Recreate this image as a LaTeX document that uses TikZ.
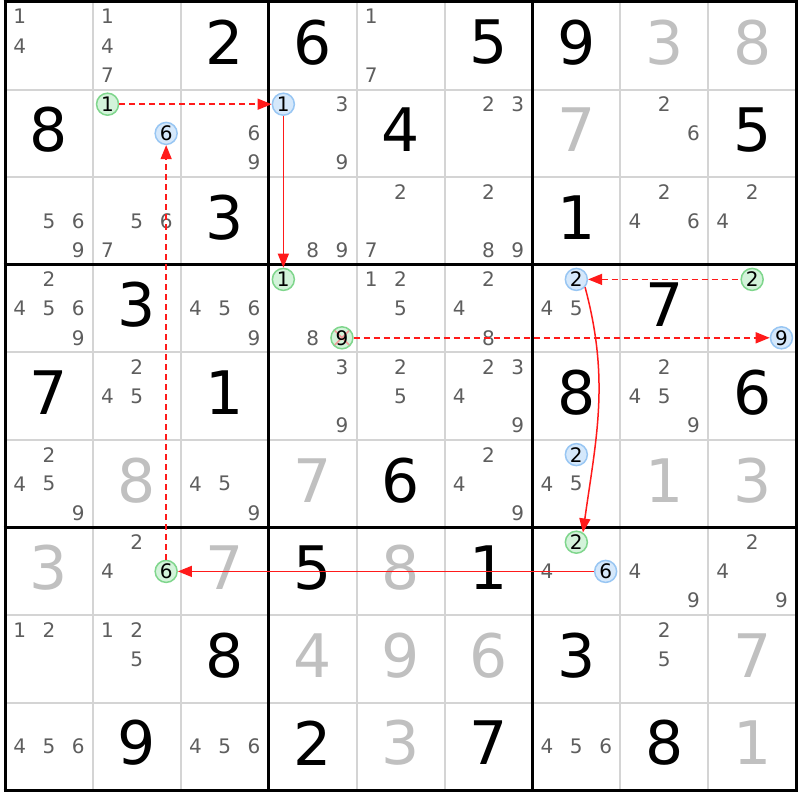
\documentclass[tikz,border=0pt]{standalone}
\usepackage{fontspec}
\setmainfont{DejaVu Sans}
\usetikzlibrary{arrows.meta}
\definecolor{candgray}{HTML}{5E5E5E}
\definecolor{solvedgray}{HTML}{C0C0C0}
\definecolor{gridgray}{HTML}{D4D4D4}
\definecolor{hlgfill}{HTML}{D3F3DA}
\definecolor{hlgdraw}{HTML}{7FD68C}
\definecolor{hlbfill}{HTML}{D5E8FB}
\definecolor{hlbdraw}{HTML}{98C6F3}
\definecolor{arrowred}{HTML}{FF1A1A}
\definecolor{crosspink}{HTML}{F29A9A}
\tikzset{
  given/.style={font=\fontsize{60}{60}\selectfont, text=black, inner sep=0pt},
  solved/.style={font=\fontsize{60}{60}\selectfont, text=solvedgray, inner sep=0pt},
  cand/.style={font=\fontsize{20}{20}\selectfont, text=candgray, inner sep=0pt},
  hlbase/.style={circle, minimum size=22pt, inner sep=0pt, line width=1.5pt, font=\fontsize{20}{20}\selectfont, text=black},
  hlg/.style={hlbase, fill=hlgfill, draw=hlgdraw},
  hlb/.style={hlbase, fill=hlbfill, draw=hlbdraw},
  thingrid/.style={draw=gridgray, line width=2pt},
  thickgrid/.style={draw=black, line width=3pt},
  strongarrow/.style={draw=arrowred, color=arrowred, line width=1.5pt, -{Triangle[length=14pt,width=11pt]}},
  strongrev/.style={draw=arrowred, color=arrowred, line width=1.5pt, {Triangle[length=14pt,width=11pt]}-},
  weakarrow/.style={strongarrow, dash pattern=on 6pt off 4pt},
  weakrev/.style={strongrev, dash pattern=on 6pt off 4pt}
}
\newcommand\giv[3]{\node[given] (v#1#2) at ({5+87.9*(#2-0.5)},{2+87.6*(#1-0.5)-3.5}) {#3};}
\newcommand\sol[3]{\node[solved] (v#1#2) at ({5+87.9*(#2-0.5)},{2+87.6*(#1-0.5)-3.5}) {#3};}
\newcommand\cnd[3]{\foreach \d in {#3}{\node[cand] (k#1#2\d) at ({5+87.9*(#2-1)+14.65*(1+2*mod(\d-1,3))},{2+87.6*(#1-1)+14.6*(1+2*floor((\d-1)/3))}) {\d};}}
\newcommand\hl[4]{\node[#4] (h#1#2#3) at ({5+87.9*(#2-1)+14.65*(1+2*mod(#3-1,3))},{2+87.6*(#1-1)+14.6*(1+2*floor((#3-1)/3))}) {#3};}
\begin{document}
\begin{tikzpicture}[x=1pt,y=-1pt]
\useasboundingbox (0,0) rectangle (800,800);
\fill[white] (0,0) rectangle (800,800);
% grid
\foreach \i in {1,2,4,5,7,8}{
  \path[thingrid] ({5+87.9*\i},2) -- ({5+87.9*\i},790.4);
  \path[thingrid] (5,{2+87.6*\i}) -- (796.1,{2+87.6*\i});
}
\foreach \i in {0,3,6,9}{
  \path[thickgrid] ({5+87.9*\i},0.5) -- ({5+87.9*\i},791.9);
  \path[thickgrid] (3.5,{2+87.6*\i}) -- (797.6,{2+87.6*\i});
}
% row 1
\cnd{1}{1}{1,4}
\cnd{1}{2}{1,4,7}
\giv{1}{3}{2}
\giv{1}{4}{6}
\cnd{1}{5}{1,7}
\giv{1}{6}{5}
\giv{1}{7}{9}
\sol{1}{8}{3}
\sol{1}{9}{8}
% row 2
\giv{2}{1}{8}
\hl{2}{2}{1}{hlg}
\hl{2}{2}{6}{hlb}
\cnd{2}{3}{6,9}
\hl{2}{4}{1}{hlb}
\cnd{2}{4}{3,9}
\giv{2}{5}{4}
\cnd{2}{6}{2,3}
\sol{2}{7}{7}
\cnd{2}{8}{2,6}
\giv{2}{9}{5}
% row 3
\cnd{3}{1}{5,6,9}
\cnd{3}{2}{5,6,7}
\giv{3}{3}{3}
\cnd{3}{4}{8,9}
\cnd{3}{5}{2,7}
\cnd{3}{6}{2,8,9}
\giv{3}{7}{1}
\cnd{3}{8}{2,4,6}
\cnd{3}{9}{2,4}
% row 4
\cnd{4}{1}{2,4,5,6,9}
\giv{4}{2}{3}
\cnd{4}{3}{4,5,6,9}
\hl{4}{4}{1}{hlg}
\node[hlg, path picture={\draw[crosspink, line width=1.6pt] (path picture bounding box.north west) -- (path picture bounding box.south east) (path picture bounding box.north east) -- (path picture bounding box.south west);}] (h449) at ({5+87.9*3+14.65*5},{2+87.6*3+14.6*5}) {9};
\cnd{4}{4}{8}
\cnd{4}{5}{1,2,5}
\cnd{4}{6}{2,4,8}
\hl{4}{7}{2}{hlb}
\cnd{4}{7}{4,5}
\giv{4}{8}{7}
\hl{4}{9}{2}{hlg}
\hl{4}{9}{9}{hlb}
% row 5
\giv{5}{1}{7}
\cnd{5}{2}{2,4,5}
\giv{5}{3}{1}
\cnd{5}{4}{3,9}
\cnd{5}{5}{2,5}
\cnd{5}{6}{2,3,4,9}
\giv{5}{7}{8}
\cnd{5}{8}{2,4,5,9}
\giv{5}{9}{6}
% row 6
\cnd{6}{1}{2,4,5,9}
\sol{6}{2}{8}
\cnd{6}{3}{4,5,9}
\sol{6}{4}{7}
\giv{6}{5}{6}
\cnd{6}{6}{2,4,9}
\hl{6}{7}{2}{hlb}
\cnd{6}{7}{4,5}
\sol{6}{8}{1}
\sol{6}{9}{3}
% row 7
\sol{7}{1}{3}
\cnd{7}{2}{2,4}
\hl{7}{2}{6}{hlg}
\sol{7}{3}{7}
\giv{7}{4}{5}
\sol{7}{5}{8}
\giv{7}{6}{1}
\hl{7}{7}{2}{hlg}
\hl{7}{7}{6}{hlb}
\cnd{7}{7}{4}
\cnd{7}{8}{4,9}
\cnd{7}{9}{2,4,9}
% row 8
\cnd{8}{1}{1,2}
\cnd{8}{2}{1,2,5}
\giv{8}{3}{8}
\sol{8}{4}{4}
\sol{8}{5}{9}
\sol{8}{6}{6}
\giv{8}{7}{3}
\cnd{8}{8}{2,5}
\sol{8}{9}{7}
% row 9
\cnd{9}{1}{4,5,6}
\giv{9}{2}{9}
\cnd{9}{3}{4,5,6}
\giv{9}{4}{2}
\sol{9}{5}{3}
\giv{9}{6}{7}
\cnd{9}{7}{4,5,6}
\giv{9}{8}{8}
\sol{9}{9}{1}
% chain (tips at the far node; drawn so every straight path runs in the +x / +y canvas direction)
\draw[weakarrow] (h221) -- (h241);
\draw[strongrev] (h441) -- (h241);
\draw[weakarrow] (h449) -- (h499);
\draw[weakrev] (h472) -- (h492);
\draw[strongarrow] (h472.-42) to[out=-75, in=82] (h772.56);
\draw[strongrev] (h726) -- (h776);
\draw[weakarrow] (h726) -- (h226);
\end{tikzpicture}
\end{document}
